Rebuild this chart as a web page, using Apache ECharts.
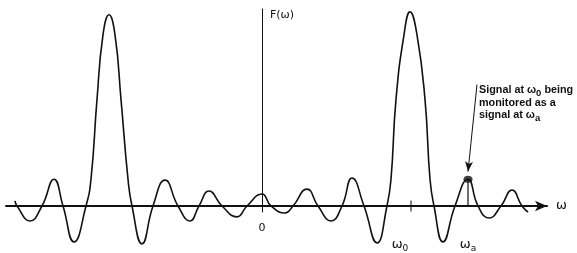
<!DOCTYPE html>
<html>
<head>
<meta charset="utf-8">
<script src="https://cdn.jsdelivr.net/npm/echarts@6/dist/echarts.min.js"></script>
<style>
  html, body { margin: 0; padding: 0; background: #fff; }
  #chart_spectrum { width: 577px; height: 253px; }
</style>
</head>
<body>
<div id="chart_spectrum"></div>
<script>
// frequency axis (ω) and spectrum amplitude F(ω)
var omega = [
  -24.7, -24.5, -23.2, -22.0, -20.8, -19.9, -18.8, -17.6,
  -17.1, -16.5, -15.9, -15.3, -14.7, -14.1, -13.4, -13.0,
  -12.0, -10.9, -9.7, -8.4, -7.2, -6.3, -5.3, -4.0, -2.5, -1.5,
  0, 0.9, 2.3, 3.1, 4.5, 5.6, 6.9, 8.0, 9.0, 10.2, 11.5, 12.5,
  12.9, 13.4, 14.2, 14.8, 15.5, 16.3, 16.8, 17.2,
  18.1, 19.3, 20.6, 21.6, 22.7, 23.9, 25.0, 26.0, 26.6
];
var amp = [
  0.026, 0, -0.077, 0, 0.138, 0, -0.185, 0,
  0.138, 0.549, 0.882, 0.985, 0.882, 0.549, 0.138, 0,
  -0.195, 0, 0.133, 0, -0.077, 0, 0.077, 0, -0.056, 0,
  0.062, 0, -0.036, 0, 0.087, 0, -0.077, 0, 0.144, 0, -0.19, 0,
  0.138, 0.549, 0.882, 1.0, 0.882, 0.549, 0.138, 0,
  -0.185, 0, 0.138, 0, -0.062, 0, 0.082, 0, -0.031
];

// marked frequencies
var omega0 = 14.9;
var omegaA = 20.6;
var ampA = 0.138;
var tickLabels = ["0", "{w|ω}{s|0}{g| }", "{w|ω}{s|a}"];
var labelValues = [0, omega0, omegaA];

// arrow start (where the note sits)
var noteAt = [21.5, 0.626];
var noteLines = [
  "{n|Signal at ω}{s|0}{n| being}",
  "{n|monitored as a}",
  "{n|signal at ω}{s|a}"
];

var curve = omega.map(function (w, i) { return [w, amp[i]]; });

var option = {
  backgroundColor: "#fff",
  animation: false,
  grid: { left: 6, right: 30, top: 9, bottom: 40 },
  xAxis: {
    type: "value",
    min: -25.6,
    max: 28.5,
    name: "ω",
    nameLocation: "end",
    nameGap: 9,
    nameTextStyle: { color: "#111", fontSize: 13, fontFamily: "DejaVu Sans", verticalAlign: "middle" },
    axisLine: {
      onZero: true,
      symbol: ["none", "arrow"],
      symbolSize: [8, 12],
      lineStyle: { color: "#111", width: 2 }
    },
    axisTick: { show: false },
    splitLine: { show: false },
    axisLabel: {
      customValues: labelValues,
      margin: 11,
      color: "#111",
      formatter: function (v) {
        return tickLabels[labelValues.indexOf(v)];
      },
      rich: {
        w: { fontSize: 13, fontFamily: "DejaVu Sans", color: "#111", padding: [13, 0, 0, 0] },
        s: { fontSize: 9, fontFamily: "DejaVu Sans", color: "#111", padding: [21, 0, 0, 0] },
        g: { fontSize: 9, width: 22 }
      },
      fontSize: 11,
      fontFamily: "DejaVu Sans"
    }
  },
  yAxis: {
    type: "value",
    min: -0.031,
    max: 1.015,
    axisLine: { onZero: true, lineStyle: { color: "#111", width: 1 } },
    axisTick: { show: false },
    axisLabel: { show: false },
    splitLine: { show: false }
  },
  graphic: [
    {
      type: "text",
      left: 270,
      top: 10,
      style: { text: "F(ω)", fill: "#111", font: "11px 'DejaVu Sans'" }
    },
    {
      type: "text",
      left: 479,
      top: 83,
      style: {
        text: noteLines.join("\n"),
        fill: "#111",
        lineHeight: 12.5,
        rich: {
          n: { fontSize: 10.8, fontFamily: "Liberation Sans", fontWeight: "bold", lineHeight: 12.5, fill: "#111" },
          s: { fontSize: 9.5, fontFamily: "Liberation Sans", fontWeight: "bold", lineHeight: 12.5, padding: [5, 0, 0, 0], fill: "#111" }
        }
      }
    }
  ],
  series: [
    {
      name: "F",
      type: "line",
      data: curve,
      smooth: 0.5,
      showSymbol: false,
      clip: false,
      lineStyle: { color: "#111", width: 1.6 }
    },
    {
      name: "stem",
      type: "line",
      data: [[omegaA, 0], [omegaA, ampA]],
      showSymbol: false,
      lineStyle: { color: "#111", width: 1.2 },
      markLine: {
        silent: true,
        symbolSize: [6, 10],
        lineStyle: { color: "#111", width: 1, type: "solid" },
        label: { show: false },
        data: [[
          { coord: noteAt, symbol: "none" },
          { coord: [omegaA, ampA + 0.04], symbol: "arrow" }
        ]]
      }
    },
    {
      name: "dot",
      type: "scatter",
      data: [[omegaA, ampA]],
      symbol: "circle",
      symbolSize: [9, 7],
      itemStyle: { color: "#111" }
    },
    {
      name: "tick",
      type: "scatter",
      data: [[omega0, 0]],
      symbol: "rect",
      symbolSize: [1.3, 11],
      itemStyle: { color: "#111" }
    }
  ]
};

var myChart = echarts.init(document.getElementById("chart_spectrum"));
myChart.setOption(option);
window.addEventListener("resize", function () {
  myChart.resize();
});
</script>
</body>
</html>
